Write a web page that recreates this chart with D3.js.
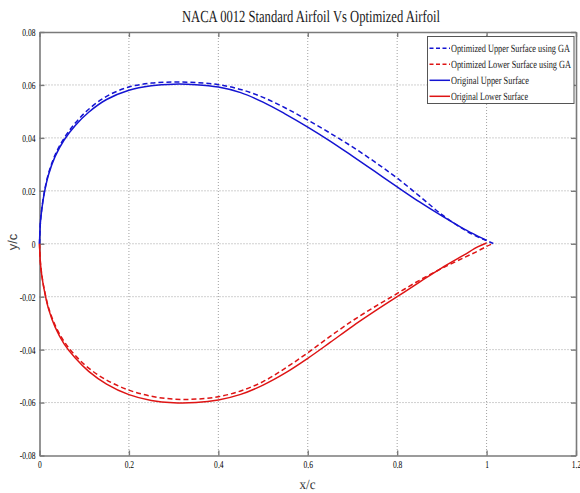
<!DOCTYPE html>
<html><head><meta charset="utf-8">
<script src="https://cdn.jsdelivr.net/npm/d3@7"></script>
<style>body{margin:0;background:#fff} svg{display:block} text{text-rendering:geometricPrecision}</style>
</head><body>
<svg id="c" width="580" height="493"></svg>
<script>
// ---- data ----
const titleText = "NACA 0012 Standard Airfoil Vs Optimized Airfoil";
const xLabelText = "x/c";
const yLabelText = "y/c";
const xTicks = [0, 0.2, 0.4, 0.6, 0.8, 1, 1.2];
const xTickLabels = ["0", "0.2", "0.4", "0.6", "0.8", "1", "1.2"];
const yTicks = [-0.08, -0.06, -0.04, -0.02, 0, 0.02, 0.04, 0.06, 0.08];
const yTickLabels = ["-0.08", "-0.06", "-0.04", "-0.02", "0", "0.02", "0.04", "0.06", "0.08"];

const xOrig = [0, 0.002, 0.005, 0.01, 0.02, 0.035, 0.055, 0.08, 0.11, 0.15, 0.2, 0.25, 0.3, 0.35, 0.4, 0.45, 0.5, 0.55, 0.6, 0.65, 0.7, 0.75, 0.8, 0.85, 0.9, 0.95, 0.98, 1.0];
const yOrigUpper = [0, 0.0080, 0.0128, 0.0185, 0.0260, 0.0330, 0.0392, 0.0447, 0.0497, 0.0545, 0.0580, 0.0597, 0.0603, 0.0601, 0.0592, 0.0571, 0.0535, 0.0490, 0.0441, 0.0388, 0.0331, 0.0273, 0.0215, 0.0158, 0.0105, 0.0055, 0.0029, 0.0013];
const yOrigLower = [0, -0.0072, -0.0118, -0.0170, -0.0245, -0.0315, -0.0378, -0.0432, -0.0482, -0.0530, -0.0570, -0.0592, -0.0601, -0.0600, -0.0590, -0.0569, -0.0534, -0.0488, -0.0433, -0.0373, -0.0312, -0.0255, -0.0200, -0.0145, -0.0091, -0.0042, -0.0012, 0.0003];

const xOpt = [0, 0.002, 0.005, 0.01, 0.02, 0.035, 0.055, 0.08, 0.11, 0.15, 0.2, 0.25, 0.3, 0.35, 0.4, 0.45, 0.5, 0.55, 0.6, 0.65, 0.7, 0.75, 0.8, 0.85, 0.9, 0.95, 0.98, 1.0, 1.015];
const yOptUpper = [0, 0.0080, 0.0130, 0.0188, 0.0265, 0.0336, 0.0399, 0.0456, 0.0508, 0.0557, 0.0592, 0.0607, 0.0611, 0.0609, 0.0601, 0.0583, 0.0553, 0.0513, 0.0467, 0.0418, 0.0366, 0.0309, 0.0248, 0.0180, 0.0110, 0.0053, 0.0026, 0.0012, 0.0001];
const yOptLower = [0, -0.0070, -0.0116, -0.0167, -0.0240, -0.0308, -0.0369, -0.0422, -0.0470, -0.0515, -0.0553, -0.0576, -0.0587, -0.0587, -0.0578, -0.0556, -0.0521, -0.0470, -0.0412, -0.0350, -0.0291, -0.0238, -0.0188, -0.0138, -0.0093, -0.0052, -0.0028, -0.0010, 0.0001];

const seriesNames = ["Optimized Upper Surface using GA", "Optimized Lower Surface using GA", "Original Upper Surface", "Original Lower Surface"];

// ---- layout / style ----
const L = 39.5, R = 576, T = 32, B = 455.5;
const BLUE = "#1414d2", RED = "#de1414";
const serif = "'Liberation Serif','Times New Roman',serif";
const legendTextWidths = [119, 120, 78, 77];
const TICK_K = 0.72;

const svg = d3.select("#c");
const x = d3.scaleLinear().domain([0, 1.2]).range([L, R]);
const y = d3.scaleLinear().domain([-0.08, 0.08]).range([B, T]);

// place a text horizontally condensed to a given width, anchored at (px, py)
function squeezed(parent, str, px, py, width, anchor, attrs) {
  const g = parent.append("g").attr("transform", `translate(${px},${py})`);
  const t = g.append("text").text(str);
  Object.entries(attrs).forEach(([k, v]) => t.attr(k, v));
  const w = t.node().getComputedTextLength();
  const k = width / w;
  t.attr("transform", `scale(${k},1)`).attr("text-anchor", anchor);
  return t;
}

// grid
const grid = svg.append("g").attr("stroke", "#a0a0a0").attr("stroke-width", 1).attr("stroke-dasharray", "1,2");
grid.selectAll("line.gx").data(xTicks.slice(1, -1)).join("line")
  .attr("x1", d => x(d)).attr("x2", d => x(d)).attr("y1", T).attr("y2", B);
grid.selectAll("line.gy").data(yTicks.slice(1, -1)).join("line")
  .attr("y1", d => y(d)).attr("y2", d => y(d)).attr("x1", L).attr("x2", R);

// axes
const axColor = "#7a7a7a";
function styleAxis(g) {
  g.select(".domain").attr("stroke", axColor).attr("stroke-width", 1.6);
  g.selectAll(".tick line").attr("stroke", axColor).attr("stroke-width", 1.4);
  g.selectAll("text").attr("fill", "#000").attr("font-family", serif).attr("font-size", 10.5);
}
const gx = svg.append("g").attr("transform", `translate(0,${B})`)
  .call(d3.axisBottom(x).tickValues(xTicks).tickFormat((d, i) => xTickLabels[i]).tickSizeInner(-5).tickSizeOuter(0).tickPadding(5));
styleAxis(gx);
gx.selectAll(".tick text").attr("transform", `scale(${TICK_K},1)`);
const gy = svg.append("g").attr("transform", `translate(${L},0)`)
  .call(d3.axisLeft(y).tickValues(yTicks).tickFormat((d, i) => yTickLabels[i]).tickSizeInner(-5).tickSizeOuter(0).tickPadding(4));
styleAxis(gy);
gy.selectAll(".tick text").attr("transform", `scale(${TICK_K},1)`).attr("x", -4 / TICK_K);
const gt = svg.append("g").attr("transform", `translate(0,${T})`)
  .call(d3.axisTop(x).tickValues(xTicks).tickFormat("").tickSizeInner(-5).tickSizeOuter(0));
styleAxis(gt);
const gr = svg.append("g").attr("transform", `translate(${R},0)`)
  .call(d3.axisRight(y).tickValues(yTicks).tickFormat("").tickSizeInner(-5).tickSizeOuter(0));
styleAxis(gr);

// curves
const line = d3.line().x(d => x(d[0])).y(d => y(d[1])).curve(d3.curveCatmullRom.alpha(0.5));
const series = [
  { name: seriesNames[0], xs: xOpt, ys: yOptUpper, color: BLUE, dash: "5,3" },
  { name: seriesNames[1], xs: xOpt, ys: yOptLower, color: RED, dash: "5,3" },
  { name: seriesNames[2], xs: xOrig, ys: yOrigUpper, color: BLUE, dash: null },
  { name: seriesNames[3], xs: xOrig, ys: yOrigLower, color: RED, dash: null }
];
const plot = svg.append("g");
series.forEach(s => {
  plot.append("path")
    .datum(s.xs.map((v, i) => [v, s.ys[i]]))
    .attr("d", line)
    .attr("fill", "none")
    .attr("stroke", s.color)
    .attr("stroke-width", 1.5)
    .attr("stroke-dasharray", s.dash);
});

// title & axis labels
squeezed(svg, titleText, 311, 22.3, 258, "middle",
  { "font-family": serif, "font-size": 17, "fill": "#1a1a1a" });
squeezed(svg, xLabelText, 307.5, 489, 16, "middle",
  { "font-family": serif, "font-size": 14, "fill": "#333" });
svg.append("text").attr("transform", "translate(17,242) rotate(-90)").attr("text-anchor", "middle")
  .attr("font-family", "'Liberation Sans',Arial,sans-serif").attr("font-size", 13).attr("fill", "#444").text(yLabelText);

// legend
const lg = svg.append("g");
lg.append("rect").attr("x", 427.5).attr("y", 36.5).attr("width", 146.5).attr("height", 67)
  .attr("fill", "#fff").attr("stroke", "#555").attr("stroke-width", 1);
series.forEach((s, i) => {
  const cy = 48.3 + i * 16;
  lg.append("line").attr("x1", 429.5).attr("x2", 450).attr("y1", cy).attr("y2", cy)
    .attr("stroke", s.color).attr("stroke-width", 1.5).attr("stroke-dasharray", s.dash === null ? null : "4,2.5");
  squeezed(lg, s.name, 451, cy, legendTextWidths[i], "start",
    { "font-family": serif, "font-size": 11, "fill": "#1a1a1a", "dy": "0.35em" });
});
</script>
</body></html>
